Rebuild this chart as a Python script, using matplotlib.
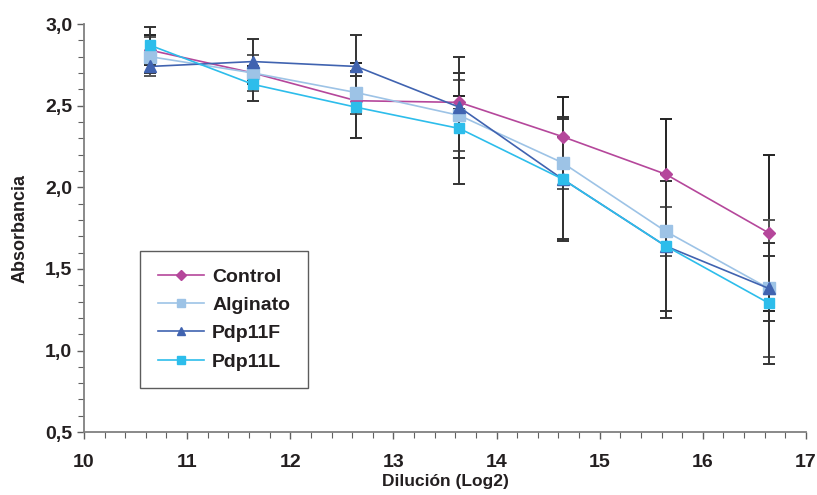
import numpy as np
import matplotlib
matplotlib.use('Agg')
import matplotlib.pyplot as plt
from matplotlib.ticker import MultipleLocator, FuncFormatter

# datos
dil = [10.64, 11.64, 12.64, 13.64, 14.64, 15.64, 16.64]
control = [2.84, 2.70, 2.53, 2.52, 2.31, 2.08, 1.72]
control_err = [0.09, 0.04, 0.23, 0.04, 0.24, 0.34, 0.48]
alginato = [2.80, 2.70, 2.58, 2.44, 2.15, 1.73, 1.38]
alginato_err = [0.12, 0.11, 0.13, 0.22, 0.16, 0.15, 0.42]
pdp11f = [2.74, 2.77, 2.74, 2.49, 2.05, 1.64, 1.38]
pdp11f_err = [0.04, 0.14, 0.19, 0.31, 0.37, 0.44, 0.20]
pdp11l = [2.87, 2.63, 2.49, 2.36, 2.05, 1.64, 1.29]
pdp11l_err = [0.11, 0.10, 0.19, 0.34, 0.38, 0.40, 0.37]

series = [
    ('Control', control, control_err, '#B5479B', 'D', 6, '#222222'),
    ('Alginato', alginato, alginato_err, '#9DC3E6', 's', 8, '#555555'),
    ('Pdp11F', pdp11f, pdp11f_err, '#4063B0', '^', 8, '#333333'),
    ('Pdp11L', pdp11l, pdp11l_err, '#2DBDEB', 's', 7, '#333333'),
]

plt.rcParams['font.family'] = ['Liberation Sans', 'DejaVu Sans']

fig = plt.figure(figsize=(8.17, 4.95), dpi=100)
ax = fig.add_axes([0.1028, 0.127, 0.8837, 0.8245])

# barras de error primero
for name, y, e, c, m, ms, ec in series:
    ax.errorbar(dil, y, yerr=e, fmt='none', ecolor=ec, elinewidth=1.4,
                capsize=4, capthick=1.4, zorder=2)
for name, y, e, c, m, ms, ec in series:
    ax.plot(dil, y, color=c, marker=m, markersize=ms, linewidth=1.2,
            markeredgecolor=c, label=name, zorder=3)

ax.set_xlim(10, 17)
ax.set_ylim(0.5, 3.0)
ax.xaxis.set_major_locator(MultipleLocator(1))
ax.xaxis.set_minor_locator(MultipleLocator(0.2))
ax.yaxis.set_major_locator(MultipleLocator(0.5))
ax.yaxis.set_minor_locator(MultipleLocator(0.1))
ax.yaxis.set_major_formatter(FuncFormatter(lambda v, p: ('%.1f' % v).replace('.', ',')))

for s in ['top', 'right']:
    ax.spines[s].set_visible(False)
for s in ['left', 'bottom']:
    ax.spines[s].set_color('#808080')
    ax.spines[s].set_linewidth(1.3)

ax.tick_params(which='both', direction='out', color='#606060')
ax.tick_params(which='major', length=5, width=1)
ax.tick_params(which='minor', length=4, width=0.8)
ax.tick_params(axis='x', which='major', pad=11)
for lab in ax.get_xticklabels() + ax.get_yticklabels():
    lab.set_fontweight('bold')
    lab.set_fontsize(14)
    lab.set_color('#231F20')

ax.set_xlabel('Dilución (Log2)', fontsize=12.5, fontweight='bold',
              color='#231F20', labelpad=2)
ax.set_ylabel('Absorbancia', fontsize=13, fontweight='bold', color='#231F20', labelpad=12)

leg = ax.legend(loc='lower left', bbox_to_anchor=(0.078, 0.108),
                prop={'weight': 'bold', 'size': 14}, frameon=True, fancybox=False,
                handlelength=2.4, labelspacing=0.55, borderpad=0.9, handletextpad=0.4,
                borderaxespad=0, markerscale=0.8)
leg.get_frame().set_edgecolor('#333333')
leg.get_frame().set_linewidth(1.0)
for t in leg.get_texts():
    t.set_color('#231F20')

fig.savefig('out.png', dpi=100)
